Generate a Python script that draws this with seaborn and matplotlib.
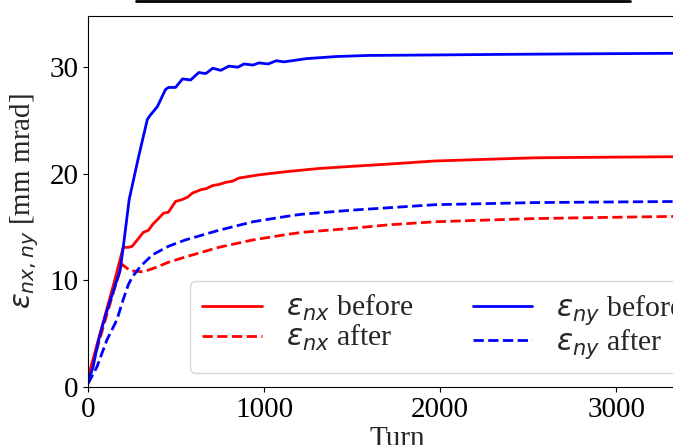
import numpy as np
import pandas as pd
import matplotlib
matplotlib.use("Agg")
import matplotlib.pyplot as plt
import seaborn as sns
from matplotlib.lines import Line2D

# ---- data ----
turn_nx_before = [0, 50, 100, 150, 200, 230, 251, 290, 314, 343, 370, 394, 429, 457, 497,
                  537, 565, 594, 640, 670, 709, 745, 783, 820, 857, 971, 1126, 1314, 1500,
                  1697, 1971, 2250, 2543, 2900, 3326, 3510]
eps_nx_before = [0.9, 3.9, 6.9, 9.9, 13.1, 13.1, 13.2, 14.0, 14.5, 14.7, 15.3, 15.7, 16.3, 16.4,
                 17.4, 17.6, 17.8, 18.2, 18.5, 18.6, 18.9, 19.0, 19.2, 19.3, 19.6, 19.9, 20.2,
                 20.5, 20.7, 20.9, 21.2, 21.35, 21.5, 21.55, 21.6, 21.6]

turn_ny_before = [0, 29, 60, 97, 140, 183, 200, 234, 286, 337, 354, 394, 440, 457, 497, 537,
                  583, 629, 669, 709, 754, 800, 851, 886, 937, 971, 1023, 1069, 1114, 1240,
                  1411, 1594, 2000, 2354, 2800, 3326, 3510]
eps_ny_before = [0.4, 1.9, 4.4, 6.6, 8.8, 11.0, 13.1, 17.6, 21.5, 25.1, 25.5, 26.3, 27.9, 28.1,
                 28.1, 28.9, 28.8, 29.5, 29.4, 29.9, 29.7, 30.1, 30.0, 30.3, 30.2, 30.4, 30.3,
                 30.6, 30.5, 30.8, 31.0, 31.1, 31.15, 31.2, 31.25, 31.3, 31.3]

turn_nx_after = [0, 50, 100, 150, 194, 240, 314, 383, 457, 554, 743, 937, 1126, 1211, 1509,
                 1697, 1971, 2250, 2543, 2900, 3326, 3510]
eps_nx_after = [0.7, 3.5, 6.4, 9.2, 11.5, 10.9, 10.8, 11.2, 11.7, 12.2, 13.1, 13.8, 14.3, 14.5,
                14.9, 15.2, 15.5, 15.65, 15.8, 15.9, 16.0, 16.05]

turn_ny_after = [0, 51, 107, 164, 200, 229, 251, 297, 366, 457, 554, 743, 937, 1126, 1211,
                 1509, 1971, 2543, 3326, 3510]
eps_ny_after = [0.3, 1.9, 4.4, 6.3, 8.2, 9.6, 10.3, 11.3, 12.4, 13.2, 13.8, 14.7, 15.5, 16.0,
                16.2, 16.6, 17.1, 17.3, 17.4, 17.4]

labels = [r"$\epsilon_{nx}$ before", r"$\epsilon_{nx}$ after",
          r"$\epsilon_{ny}$ before", r"$\epsilon_{ny}$ after"]
x_ticks = [0, 1000, 2000, 3000]
y_ticks = [0, 10, 20, 30]

# ---- style ----
sns.set_style("ticks")
plt.rcParams["font.family"] = ["Liberation Serif", "DejaVu Serif"]
plt.rcParams["mathtext.fontset"] = "dejavusans"
plt.rcParams["axes.edgecolor"] = "black"
plt.rcParams["xtick.color"] = "black"
plt.rcParams["ytick.color"] = "black"

fig = plt.figure(figsize=(6.73, 4.45), dpi=100)
W, H = 673, 445
ax = fig.add_axes([88 / W, (H - 387) / H, (706 - 88) / W, 371 / H])

series = [
    (turn_nx_before, eps_nx_before, "red", "-"),
    (turn_nx_after, eps_nx_after, "red", "--"),
    (turn_ny_before, eps_ny_before, "blue", "-"),
    (turn_ny_after, eps_ny_after, "blue", "--"),
]
for (tx, ty, c, ls), lab in zip(series, labels):
    sns.lineplot(x=tx, y=ty, color=c, linestyle=ls, linewidth=2, label=lab, ax=ax,
                 sort=False, estimator=None)

ax.set_xlim(0, 3510)
ax.set_ylim(0, 34.8)
ax.set_xticks(x_ticks)
ax.set_yticks(y_ticks)
ax.tick_params(labelsize=21, length=3.5, width=0.8)
for s in ax.spines.values():
    s.set_linewidth(0.8)
ax.set_xlabel("Turn", fontsize=21, labelpad=2)
ax.set_ylabel(r"$\epsilon_{nx,ny}$ [mm mrad]", fontsize=21, labelpad=6)

ax.legend(ncol=2, fontsize=21.5, loc="lower left", labelspacing=0.0,
          bbox_to_anchor=((190 - 88) / 618, (387 - 373) / 371), borderaxespad=0)

# remnant of the cropped title box edge at the very top
fig.add_artist(Line2D([136 / W, 630 / W], [1 - 1.2 / H, 1 - 1.2 / H], color="black",
                      linewidth=2, transform=fig.transFigure))

fig.savefig("out.png", dpi=100)
